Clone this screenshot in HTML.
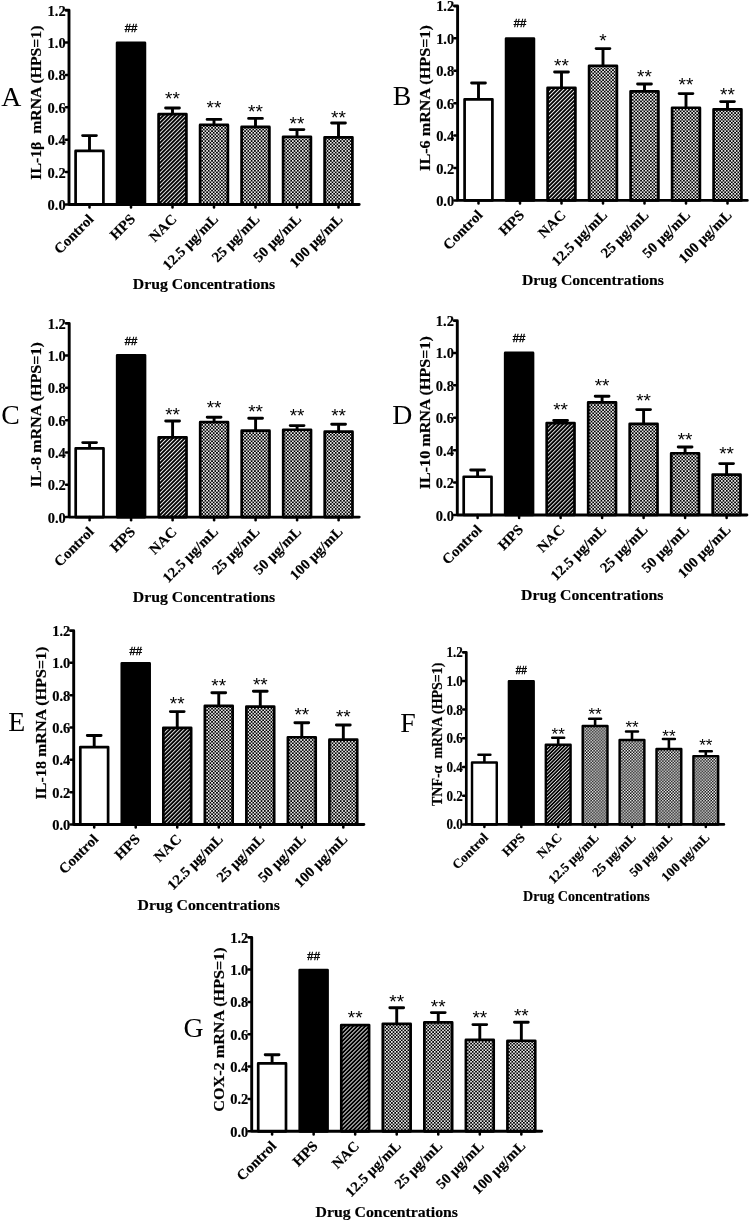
<!DOCTYPE html>
<html><head><meta charset="utf-8"><title>Figure</title>
<style>
html,body{margin:0;padding:0;background:#fff;}
body{width:750px;height:1221px;overflow:hidden;font-family:"Liberation Serif",serif;}
svg{display:block;will-change:transform;}
.b{font-weight:bold;stroke:#000;stroke-width:0.18px;stroke-linejoin:round;}
</style></head>
<body>
<svg width="750" height="1221" viewBox="0 0 750 1221">
<rect width="750" height="1221" fill="#fff"/>
<defs>
<pattern id="hatch" width="2.83" height="2.83" patternUnits="userSpaceOnUse" patternTransform="rotate(-45)">
<rect width="2.83" height="2.83" fill="#000"/><rect y="0" width="2.83" height="0.95" fill="#e2e2e2"/>
</pattern>
<pattern id="hatchF" width="2.5" height="2.5" patternUnits="userSpaceOnUse" patternTransform="rotate(-45)">
<rect width="2.5" height="2.5" fill="#000"/><rect y="0" width="2.5" height="0.85" fill="#e2e2e2"/>
</pattern>
<pattern id="chk" width="3.3" height="3.3" patternUnits="userSpaceOnUse">
<rect width="3.3" height="3.3" fill="#000"/><rect x="0" y="0" width="1.6" height="1.6" fill="#f6f6f6"/><rect x="1.65" y="1.65" width="1.6" height="1.6" fill="#f6f6f6"/>
</pattern>
<pattern id="chkF" width="2.93" height="2.93" patternUnits="userSpaceOnUse">
<rect width="2.93" height="2.93" fill="#000"/><rect x="0" y="0" width="1.465" height="1.465" fill="#fff"/><rect x="1.465" y="1.465" width="1.465" height="1.465" fill="#fff"/>
</pattern>
</defs>
<g id="panelA">
<path d="M89.5 150.6 V135.6 M82.6 135.6 H96.4" stroke="#000" stroke-width="2.9" stroke-linecap="round" fill="none"/>
<rect x="75.6" y="150.95" width="27.8" height="53.55" fill="#fff" stroke="#000" stroke-width="2.7" stroke-linejoin="round"/>
<rect x="117.1" y="42.75" width="27.8" height="161.75" fill="#000" stroke="#000" stroke-width="2.7" stroke-linejoin="round"/>
<text x="131" y="27.6" font-family="Liberation Sans, sans-serif" font-size="11.3" text-anchor="middle" dominant-baseline="central" stroke="#000" stroke-width="0.4">##</text>
<path d="M172.5 113.8 V108 M165.6 108 H179.4" stroke="#000" stroke-width="2.9" stroke-linecap="round" fill="none"/>
<rect x="158.6" y="114.15" width="27.8" height="90.35" fill="url(#hatch)" stroke="#000" stroke-width="2.7" stroke-linejoin="round"/>
<text x="172.5" y="105.03" font-family="Liberation Sans, sans-serif" font-size="19" text-anchor="middle">**</text>
<path d="M214 124.6 V119.4 M207.1 119.4 H220.9" stroke="#000" stroke-width="2.9" stroke-linecap="round" fill="none"/>
<rect x="200.1" y="124.95" width="27.8" height="79.55" fill="url(#chk)" stroke="#000" stroke-width="2.7" stroke-linejoin="round"/>
<text x="214" y="114.13" font-family="Liberation Sans, sans-serif" font-size="19" text-anchor="middle">**</text>
<path d="M255.5 126.6 V118.4 M248.6 118.4 H262.4" stroke="#000" stroke-width="2.9" stroke-linecap="round" fill="none"/>
<rect x="241.6" y="126.95" width="27.8" height="77.55" fill="url(#chk)" stroke="#000" stroke-width="2.7" stroke-linejoin="round"/>
<text x="255.5" y="118.33" font-family="Liberation Sans, sans-serif" font-size="19" text-anchor="middle">**</text>
<path d="M297 136.4 V129.6 M290.1 129.6 H303.9" stroke="#000" stroke-width="2.9" stroke-linecap="round" fill="none"/>
<rect x="283.1" y="136.75" width="27.8" height="67.75" fill="url(#chk)" stroke="#000" stroke-width="2.7" stroke-linejoin="round"/>
<text x="297" y="129.73" font-family="Liberation Sans, sans-serif" font-size="19" text-anchor="middle">**</text>
<path d="M338.5 137 V123 M331.6 123 H345.4" stroke="#000" stroke-width="2.9" stroke-linecap="round" fill="none"/>
<rect x="324.6" y="137.35" width="27.8" height="67.15" fill="url(#chk)" stroke="#000" stroke-width="2.7" stroke-linejoin="round"/>
<text x="338.5" y="124.13" font-family="Liberation Sans, sans-serif" font-size="19" text-anchor="middle">**</text>
<path d="M65.8 10.25 H69 V204.5 H359.2" stroke="#000" stroke-width="2.9" fill="none" stroke-linejoin="round" stroke-linecap="round"/>
<path d="M65.8 204.5 H68" stroke="#000" stroke-width="2.5" stroke-linecap="round"/>
<text transform="translate(65.6 210.03) scale(0.96 1)" font-family="Liberation Serif, serif" class="b" font-size="15.05" text-anchor="end">0.0</text>
<path d="M65.8 172.1 H68" stroke="#000" stroke-width="2.5" stroke-linecap="round"/>
<text transform="translate(65.6 177.63) scale(0.96 1)" font-family="Liberation Serif, serif" class="b" font-size="15.05" text-anchor="end">0.2</text>
<path d="M65.8 139.7 H68" stroke="#000" stroke-width="2.5" stroke-linecap="round"/>
<text transform="translate(65.6 145.23) scale(0.96 1)" font-family="Liberation Serif, serif" class="b" font-size="15.05" text-anchor="end">0.4</text>
<path d="M65.8 107.3 H68" stroke="#000" stroke-width="2.5" stroke-linecap="round"/>
<text transform="translate(65.6 112.83) scale(0.96 1)" font-family="Liberation Serif, serif" class="b" font-size="15.05" text-anchor="end">0.6</text>
<path d="M65.8 74.9 H68" stroke="#000" stroke-width="2.5" stroke-linecap="round"/>
<text transform="translate(65.6 80.43) scale(0.96 1)" font-family="Liberation Serif, serif" class="b" font-size="15.05" text-anchor="end">0.8</text>
<path d="M65.8 42.5 H68" stroke="#000" stroke-width="2.5" stroke-linecap="round"/>
<text transform="translate(65.6 48.03) scale(0.96 1)" font-family="Liberation Serif, serif" class="b" font-size="15.05" text-anchor="end">1.0</text>
<text transform="translate(65.6 15.63) scale(0.96 1)" font-family="Liberation Serif, serif" class="b" font-size="15.05" text-anchor="end">1.2</text>
<path d="M89.5 204.5 V207.6" stroke="#000" stroke-width="2.5" stroke-linecap="round"/>
<text transform="translate(94.5 220) rotate(-45) scale(1.03 1)" font-family="Liberation Serif, serif" class="b" font-size="14.42" text-anchor="end">Control</text>
<path d="M131 204.5 V207.6" stroke="#000" stroke-width="2.5" stroke-linecap="round"/>
<text transform="translate(136 220) rotate(-45) scale(1.03 1)" font-family="Liberation Serif, serif" class="b" font-size="14.42" text-anchor="end">HPS</text>
<path d="M172.5 204.5 V207.6" stroke="#000" stroke-width="2.5" stroke-linecap="round"/>
<text transform="translate(177.5 220) rotate(-45) scale(1.03 1)" font-family="Liberation Serif, serif" class="b" font-size="14.42" text-anchor="end">NAC</text>
<path d="M214 204.5 V207.6" stroke="#000" stroke-width="2.5" stroke-linecap="round"/>
<text transform="translate(219 220) rotate(-45) scale(1.03 1)" font-family="Liberation Serif, serif" class="b" font-size="14.42" text-anchor="end">12.5 μg/mL</text>
<path d="M255.5 204.5 V207.6" stroke="#000" stroke-width="2.5" stroke-linecap="round"/>
<text transform="translate(260.5 220) rotate(-45) scale(1.03 1)" font-family="Liberation Serif, serif" class="b" font-size="14.42" text-anchor="end">25 μg/mL</text>
<path d="M297 204.5 V207.6" stroke="#000" stroke-width="2.5" stroke-linecap="round"/>
<text transform="translate(302 220) rotate(-45) scale(1.03 1)" font-family="Liberation Serif, serif" class="b" font-size="14.42" text-anchor="end">50 μg/mL</text>
<path d="M338.5 204.5 V207.6" stroke="#000" stroke-width="2.5" stroke-linecap="round"/>
<text transform="translate(343.5 220) rotate(-45) scale(1.03 1)" font-family="Liberation Serif, serif" class="b" font-size="14.42" text-anchor="end">100 μg/mL</text>
<text transform="translate(41 102.6) rotate(-90)" font-family="Liberation Serif, serif" class="b" font-size="15.2" text-anchor="middle" textLength="154.1" lengthAdjust="spacingAndGlyphs">IL-1β  mRNA (HPS=1)</text>
<text x="204" y="289.2" font-family="Liberation Serif, serif" class="b" font-size="15.2" text-anchor="middle" textLength="142.4" lengthAdjust="spacingAndGlyphs">Drug Concentrations</text>
<text x="1.2" y="105.5" font-family="Liberation Serif, serif" font-size="27.8">A</text>
</g>
<g id="panelB">
<path d="M478.5 99 V83 M471.6 83 H485.4" stroke="#000" stroke-width="2.9" stroke-linecap="round" fill="none"/>
<rect x="464.6" y="99.35" width="27.8" height="101.05" fill="#fff" stroke="#000" stroke-width="2.7" stroke-linejoin="round"/>
<rect x="506.1" y="38.55" width="27.8" height="161.85" fill="#000" stroke="#000" stroke-width="2.7" stroke-linejoin="round"/>
<text x="520" y="23" font-family="Liberation Sans, sans-serif" font-size="11.3" text-anchor="middle" dominant-baseline="central" stroke="#000" stroke-width="0.4">##</text>
<path d="M561.5 87.4 V72 M554.6 72 H568.4" stroke="#000" stroke-width="2.9" stroke-linecap="round" fill="none"/>
<rect x="547.6" y="87.75" width="27.8" height="112.65" fill="url(#hatch)" stroke="#000" stroke-width="2.7" stroke-linejoin="round"/>
<text x="561.5" y="72.33" font-family="Liberation Sans, sans-serif" font-size="19" text-anchor="middle">**</text>
<path d="M603 65.4 V48.6 M596.1 48.6 H609.9" stroke="#000" stroke-width="2.9" stroke-linecap="round" fill="none"/>
<rect x="589.1" y="65.75" width="27.8" height="134.65" fill="url(#chk)" stroke="#000" stroke-width="2.7" stroke-linejoin="round"/>
<text x="603" y="47.13" font-family="Liberation Sans, sans-serif" font-size="19" text-anchor="middle">*</text>
<path d="M644.5 91 V84 M637.6 84 H651.4" stroke="#000" stroke-width="2.9" stroke-linecap="round" fill="none"/>
<rect x="630.6" y="91.35" width="27.8" height="109.05" fill="url(#chk)" stroke="#000" stroke-width="2.7" stroke-linejoin="round"/>
<text x="644.5" y="82.73" font-family="Liberation Sans, sans-serif" font-size="19" text-anchor="middle">**</text>
<path d="M686 107.4 V93.6 M679.1 93.6 H692.9" stroke="#000" stroke-width="2.9" stroke-linecap="round" fill="none"/>
<rect x="672.1" y="107.75" width="27.8" height="92.65" fill="url(#chk)" stroke="#000" stroke-width="2.7" stroke-linejoin="round"/>
<text x="686" y="91.33" font-family="Liberation Sans, sans-serif" font-size="19" text-anchor="middle">**</text>
<path d="M727.5 109 V101.6 M720.6 101.6 H734.4" stroke="#000" stroke-width="2.9" stroke-linecap="round" fill="none"/>
<rect x="713.6" y="109.35" width="27.8" height="91.05" fill="url(#chk)" stroke="#000" stroke-width="2.7" stroke-linejoin="round"/>
<text x="727.5" y="101.13" font-family="Liberation Sans, sans-serif" font-size="19" text-anchor="middle">**</text>
<path d="M454.4 6.05 H457.6 V200.4 H747.3" stroke="#000" stroke-width="2.9" fill="none" stroke-linejoin="round" stroke-linecap="round"/>
<path d="M454.4 200.4 H456.6" stroke="#000" stroke-width="2.5" stroke-linecap="round"/>
<text transform="translate(454.2 205.93) scale(0.96 1)" font-family="Liberation Serif, serif" class="b" font-size="15.05" text-anchor="end">0.0</text>
<path d="M454.4 167.98 H456.6" stroke="#000" stroke-width="2.5" stroke-linecap="round"/>
<text transform="translate(454.2 173.51) scale(0.96 1)" font-family="Liberation Serif, serif" class="b" font-size="15.05" text-anchor="end">0.2</text>
<path d="M454.4 135.57 H456.6" stroke="#000" stroke-width="2.5" stroke-linecap="round"/>
<text transform="translate(454.2 141.1) scale(0.96 1)" font-family="Liberation Serif, serif" class="b" font-size="15.05" text-anchor="end">0.4</text>
<path d="M454.4 103.15 H456.6" stroke="#000" stroke-width="2.5" stroke-linecap="round"/>
<text transform="translate(454.2 108.68) scale(0.96 1)" font-family="Liberation Serif, serif" class="b" font-size="15.05" text-anchor="end">0.6</text>
<path d="M454.4 70.73 H456.6" stroke="#000" stroke-width="2.5" stroke-linecap="round"/>
<text transform="translate(454.2 76.26) scale(0.96 1)" font-family="Liberation Serif, serif" class="b" font-size="15.05" text-anchor="end">0.8</text>
<path d="M454.4 38.32 H456.6" stroke="#000" stroke-width="2.5" stroke-linecap="round"/>
<text transform="translate(454.2 43.85) scale(0.96 1)" font-family="Liberation Serif, serif" class="b" font-size="15.05" text-anchor="end">1.0</text>
<text transform="translate(454.2 11.43) scale(0.96 1)" font-family="Liberation Serif, serif" class="b" font-size="15.05" text-anchor="end">1.2</text>
<path d="M478.5 200.4 V203.5" stroke="#000" stroke-width="2.5" stroke-linecap="round"/>
<text transform="translate(483.5 215.9) rotate(-45) scale(1.03 1)" font-family="Liberation Serif, serif" class="b" font-size="14.42" text-anchor="end">Control</text>
<path d="M520 200.4 V203.5" stroke="#000" stroke-width="2.5" stroke-linecap="round"/>
<text transform="translate(525 215.9) rotate(-45) scale(1.03 1)" font-family="Liberation Serif, serif" class="b" font-size="14.42" text-anchor="end">HPS</text>
<path d="M561.5 200.4 V203.5" stroke="#000" stroke-width="2.5" stroke-linecap="round"/>
<text transform="translate(566.5 215.9) rotate(-45) scale(1.03 1)" font-family="Liberation Serif, serif" class="b" font-size="14.42" text-anchor="end">NAC</text>
<path d="M603 200.4 V203.5" stroke="#000" stroke-width="2.5" stroke-linecap="round"/>
<text transform="translate(608 215.9) rotate(-45) scale(1.03 1)" font-family="Liberation Serif, serif" class="b" font-size="14.42" text-anchor="end">12.5 μg/mL</text>
<path d="M644.5 200.4 V203.5" stroke="#000" stroke-width="2.5" stroke-linecap="round"/>
<text transform="translate(649.5 215.9) rotate(-45) scale(1.03 1)" font-family="Liberation Serif, serif" class="b" font-size="14.42" text-anchor="end">25 μg/mL</text>
<path d="M686 200.4 V203.5" stroke="#000" stroke-width="2.5" stroke-linecap="round"/>
<text transform="translate(691 215.9) rotate(-45) scale(1.03 1)" font-family="Liberation Serif, serif" class="b" font-size="14.42" text-anchor="end">50 μg/mL</text>
<path d="M727.5 200.4 V203.5" stroke="#000" stroke-width="2.5" stroke-linecap="round"/>
<text transform="translate(732.5 215.9) rotate(-45) scale(1.03 1)" font-family="Liberation Serif, serif" class="b" font-size="14.42" text-anchor="end">100 μg/mL</text>
<text transform="translate(430 98) rotate(-90)" font-family="Liberation Serif, serif" class="b" font-size="15.2" text-anchor="middle" textLength="145.8" lengthAdjust="spacingAndGlyphs">IL-6 mRNA (HPS=1)</text>
<text x="593" y="284.7" font-family="Liberation Serif, serif" class="b" font-size="15.2" text-anchor="middle" textLength="142" lengthAdjust="spacingAndGlyphs">Drug Concentrations</text>
<text x="392.7" y="104.9" font-family="Liberation Serif, serif" font-size="27.8">B</text>
</g>
<g id="panelC">
<path d="M89.6 448 V442.6 M82.7 442.6 H96.5" stroke="#000" stroke-width="2.9" stroke-linecap="round" fill="none"/>
<rect x="75.7" y="448.35" width="27.8" height="68.75" fill="#fff" stroke="#000" stroke-width="2.7" stroke-linejoin="round"/>
<rect x="117.2" y="355.35" width="27.8" height="161.75" fill="#000" stroke="#000" stroke-width="2.7" stroke-linejoin="round"/>
<text x="131.1" y="341" font-family="Liberation Sans, sans-serif" font-size="11.3" text-anchor="middle" dominant-baseline="central" stroke="#000" stroke-width="0.4">##</text>
<path d="M172.6 437 V421 M165.7 421 H179.5" stroke="#000" stroke-width="2.9" stroke-linecap="round" fill="none"/>
<rect x="158.7" y="437.35" width="27.8" height="79.75" fill="url(#hatch)" stroke="#000" stroke-width="2.7" stroke-linejoin="round"/>
<text x="172.6" y="421.13" font-family="Liberation Sans, sans-serif" font-size="19" text-anchor="middle">**</text>
<path d="M214.1 421.8 V417.2 M207.2 417.2 H221" stroke="#000" stroke-width="2.9" stroke-linecap="round" fill="none"/>
<rect x="200.2" y="422.15" width="27.8" height="94.95" fill="url(#chk)" stroke="#000" stroke-width="2.7" stroke-linejoin="round"/>
<text x="214.1" y="414.33" font-family="Liberation Sans, sans-serif" font-size="19" text-anchor="middle">**</text>
<path d="M255.6 430.3 V418.3 M248.7 418.3 H262.5" stroke="#000" stroke-width="2.9" stroke-linecap="round" fill="none"/>
<rect x="241.7" y="430.65" width="27.8" height="86.45" fill="url(#chk)" stroke="#000" stroke-width="2.7" stroke-linejoin="round"/>
<text x="255.6" y="417.73" font-family="Liberation Sans, sans-serif" font-size="19" text-anchor="middle">**</text>
<path d="M297.1 429.4 V425.6 M290.2 425.6 H304" stroke="#000" stroke-width="2.9" stroke-linecap="round" fill="none"/>
<rect x="283.2" y="429.75" width="27.8" height="87.35" fill="url(#chk)" stroke="#000" stroke-width="2.7" stroke-linejoin="round"/>
<text x="297.1" y="421.83" font-family="Liberation Sans, sans-serif" font-size="19" text-anchor="middle">**</text>
<path d="M338.6 431.3 V424.2 M331.7 424.2 H345.5" stroke="#000" stroke-width="2.9" stroke-linecap="round" fill="none"/>
<rect x="324.7" y="431.65" width="27.8" height="85.45" fill="url(#chk)" stroke="#000" stroke-width="2.7" stroke-linejoin="round"/>
<text x="338.6" y="422.03" font-family="Liberation Sans, sans-serif" font-size="19" text-anchor="middle">**</text>
<path d="M66 323.35 H69.2 V517.1 H359.2" stroke="#000" stroke-width="2.9" fill="none" stroke-linejoin="round" stroke-linecap="round"/>
<path d="M66 517.1 H68.2" stroke="#000" stroke-width="2.5" stroke-linecap="round"/>
<text transform="translate(65.8 522.63) scale(0.96 1)" font-family="Liberation Serif, serif" class="b" font-size="15.05" text-anchor="end">0.0</text>
<path d="M66 484.78 H68.2" stroke="#000" stroke-width="2.5" stroke-linecap="round"/>
<text transform="translate(65.8 490.31) scale(0.96 1)" font-family="Liberation Serif, serif" class="b" font-size="15.05" text-anchor="end">0.2</text>
<path d="M66 452.47 H68.2" stroke="#000" stroke-width="2.5" stroke-linecap="round"/>
<text transform="translate(65.8 458) scale(0.96 1)" font-family="Liberation Serif, serif" class="b" font-size="15.05" text-anchor="end">0.4</text>
<path d="M66 420.15 H68.2" stroke="#000" stroke-width="2.5" stroke-linecap="round"/>
<text transform="translate(65.8 425.68) scale(0.96 1)" font-family="Liberation Serif, serif" class="b" font-size="15.05" text-anchor="end">0.6</text>
<path d="M66 387.83 H68.2" stroke="#000" stroke-width="2.5" stroke-linecap="round"/>
<text transform="translate(65.8 393.36) scale(0.96 1)" font-family="Liberation Serif, serif" class="b" font-size="15.05" text-anchor="end">0.8</text>
<path d="M66 355.52 H68.2" stroke="#000" stroke-width="2.5" stroke-linecap="round"/>
<text transform="translate(65.8 361.05) scale(0.96 1)" font-family="Liberation Serif, serif" class="b" font-size="15.05" text-anchor="end">1.0</text>
<text transform="translate(65.8 328.73) scale(0.96 1)" font-family="Liberation Serif, serif" class="b" font-size="15.05" text-anchor="end">1.2</text>
<path d="M89.6 517.1 V520.2" stroke="#000" stroke-width="2.5" stroke-linecap="round"/>
<text transform="translate(94.6 532.6) rotate(-45) scale(1.03 1)" font-family="Liberation Serif, serif" class="b" font-size="14.42" text-anchor="end">Control</text>
<path d="M131.1 517.1 V520.2" stroke="#000" stroke-width="2.5" stroke-linecap="round"/>
<text transform="translate(136.1 532.6) rotate(-45) scale(1.03 1)" font-family="Liberation Serif, serif" class="b" font-size="14.42" text-anchor="end">HPS</text>
<path d="M172.6 517.1 V520.2" stroke="#000" stroke-width="2.5" stroke-linecap="round"/>
<text transform="translate(177.6 532.6) rotate(-45) scale(1.03 1)" font-family="Liberation Serif, serif" class="b" font-size="14.42" text-anchor="end">NAC</text>
<path d="M214.1 517.1 V520.2" stroke="#000" stroke-width="2.5" stroke-linecap="round"/>
<text transform="translate(219.1 532.6) rotate(-45) scale(1.03 1)" font-family="Liberation Serif, serif" class="b" font-size="14.42" text-anchor="end">12.5 μg/mL</text>
<path d="M255.6 517.1 V520.2" stroke="#000" stroke-width="2.5" stroke-linecap="round"/>
<text transform="translate(260.6 532.6) rotate(-45) scale(1.03 1)" font-family="Liberation Serif, serif" class="b" font-size="14.42" text-anchor="end">25 μg/mL</text>
<path d="M297.1 517.1 V520.2" stroke="#000" stroke-width="2.5" stroke-linecap="round"/>
<text transform="translate(302.1 532.6) rotate(-45) scale(1.03 1)" font-family="Liberation Serif, serif" class="b" font-size="14.42" text-anchor="end">50 μg/mL</text>
<path d="M338.6 517.1 V520.2" stroke="#000" stroke-width="2.5" stroke-linecap="round"/>
<text transform="translate(343.6 532.6) rotate(-45) scale(1.03 1)" font-family="Liberation Serif, serif" class="b" font-size="14.42" text-anchor="end">100 μg/mL</text>
<text transform="translate(41.3 414.8) rotate(-90)" font-family="Liberation Serif, serif" class="b" font-size="15.2" text-anchor="middle" textLength="145.4" lengthAdjust="spacingAndGlyphs">IL-8 mRNA (HPS=1)</text>
<text x="204" y="601.7" font-family="Liberation Serif, serif" class="b" font-size="15.2" text-anchor="middle" textLength="142.4" lengthAdjust="spacingAndGlyphs">Drug Concentrations</text>
<text x="1.2" y="423.5" font-family="Liberation Serif, serif" font-size="27.8">C</text>
</g>
<g id="panelD">
<path d="M477.6 476.4 V470 M470.7 470 H484.5" stroke="#000" stroke-width="2.9" stroke-linecap="round" fill="none"/>
<rect x="463.7" y="476.75" width="27.8" height="38.25" fill="#fff" stroke="#000" stroke-width="2.7" stroke-linejoin="round"/>
<rect x="505.2" y="352.95" width="27.8" height="162.05" fill="#000" stroke="#000" stroke-width="2.7" stroke-linejoin="round"/>
<text x="519.1" y="338" font-family="Liberation Sans, sans-serif" font-size="11.3" text-anchor="middle" dominant-baseline="central" stroke="#000" stroke-width="0.4">##</text>
<path d="M560.6 422.7 V420.5 M553.7 420.5 H567.5" stroke="#000" stroke-width="2.9" stroke-linecap="round" fill="none"/>
<rect x="546.7" y="423.05" width="27.8" height="91.95" fill="url(#hatch)" stroke="#000" stroke-width="2.7" stroke-linejoin="round"/>
<text x="560.6" y="415.83" font-family="Liberation Sans, sans-serif" font-size="19" text-anchor="middle">**</text>
<path d="M602.1 402 V396.3 M595.2 396.3 H609" stroke="#000" stroke-width="2.9" stroke-linecap="round" fill="none"/>
<rect x="588.2" y="402.35" width="27.8" height="112.65" fill="url(#chk)" stroke="#000" stroke-width="2.7" stroke-linejoin="round"/>
<text x="602.1" y="391.93" font-family="Liberation Sans, sans-serif" font-size="19" text-anchor="middle">**</text>
<path d="M643.6 423.5 V409.6 M636.7 409.6 H650.5" stroke="#000" stroke-width="2.9" stroke-linecap="round" fill="none"/>
<rect x="629.7" y="423.85" width="27.8" height="91.15" fill="url(#chk)" stroke="#000" stroke-width="2.7" stroke-linejoin="round"/>
<text x="643.6" y="407.13" font-family="Liberation Sans, sans-serif" font-size="19" text-anchor="middle">**</text>
<path d="M685.1 452.9 V447 M678.2 447 H692" stroke="#000" stroke-width="2.9" stroke-linecap="round" fill="none"/>
<rect x="671.2" y="453.25" width="27.8" height="61.75" fill="url(#chk)" stroke="#000" stroke-width="2.7" stroke-linejoin="round"/>
<text x="685.1" y="446.13" font-family="Liberation Sans, sans-serif" font-size="19" text-anchor="middle">**</text>
<path d="M726.6 474.2 V463.6 M719.7 463.6 H733.5" stroke="#000" stroke-width="2.9" stroke-linecap="round" fill="none"/>
<rect x="712.7" y="474.55" width="27.8" height="40.45" fill="url(#chk)" stroke="#000" stroke-width="2.7" stroke-linejoin="round"/>
<text x="726.6" y="459.73" font-family="Liberation Sans, sans-serif" font-size="19" text-anchor="middle">**</text>
<path d="M454.1 320.65 H457.3 V515 H746.9" stroke="#000" stroke-width="2.9" fill="none" stroke-linejoin="round" stroke-linecap="round"/>
<path d="M454.1 515 H456.3" stroke="#000" stroke-width="2.5" stroke-linecap="round"/>
<text transform="translate(453.9 520.53) scale(0.96 1)" font-family="Liberation Serif, serif" class="b" font-size="15.05" text-anchor="end">0.0</text>
<path d="M454.1 482.58 H456.3" stroke="#000" stroke-width="2.5" stroke-linecap="round"/>
<text transform="translate(453.9 488.11) scale(0.96 1)" font-family="Liberation Serif, serif" class="b" font-size="15.05" text-anchor="end">0.2</text>
<path d="M454.1 450.17 H456.3" stroke="#000" stroke-width="2.5" stroke-linecap="round"/>
<text transform="translate(453.9 455.7) scale(0.96 1)" font-family="Liberation Serif, serif" class="b" font-size="15.05" text-anchor="end">0.4</text>
<path d="M454.1 417.75 H456.3" stroke="#000" stroke-width="2.5" stroke-linecap="round"/>
<text transform="translate(453.9 423.28) scale(0.96 1)" font-family="Liberation Serif, serif" class="b" font-size="15.05" text-anchor="end">0.6</text>
<path d="M454.1 385.33 H456.3" stroke="#000" stroke-width="2.5" stroke-linecap="round"/>
<text transform="translate(453.9 390.86) scale(0.96 1)" font-family="Liberation Serif, serif" class="b" font-size="15.05" text-anchor="end">0.8</text>
<path d="M454.1 352.92 H456.3" stroke="#000" stroke-width="2.5" stroke-linecap="round"/>
<text transform="translate(453.9 358.45) scale(0.96 1)" font-family="Liberation Serif, serif" class="b" font-size="15.05" text-anchor="end">1.0</text>
<text transform="translate(453.9 326.03) scale(0.96 1)" font-family="Liberation Serif, serif" class="b" font-size="15.05" text-anchor="end">1.2</text>
<path d="M477.6 515 V518.1" stroke="#000" stroke-width="2.5" stroke-linecap="round"/>
<text transform="translate(482.6 530.5) rotate(-45) scale(1.03 1)" font-family="Liberation Serif, serif" class="b" font-size="14.42" text-anchor="end">Control</text>
<path d="M519.1 515 V518.1" stroke="#000" stroke-width="2.5" stroke-linecap="round"/>
<text transform="translate(524.1 530.5) rotate(-45) scale(1.03 1)" font-family="Liberation Serif, serif" class="b" font-size="14.42" text-anchor="end">HPS</text>
<path d="M560.6 515 V518.1" stroke="#000" stroke-width="2.5" stroke-linecap="round"/>
<text transform="translate(565.6 530.5) rotate(-45) scale(1.03 1)" font-family="Liberation Serif, serif" class="b" font-size="14.42" text-anchor="end">NAC</text>
<path d="M602.1 515 V518.1" stroke="#000" stroke-width="2.5" stroke-linecap="round"/>
<text transform="translate(607.1 530.5) rotate(-45) scale(1.03 1)" font-family="Liberation Serif, serif" class="b" font-size="14.42" text-anchor="end">12.5 μg/mL</text>
<path d="M643.6 515 V518.1" stroke="#000" stroke-width="2.5" stroke-linecap="round"/>
<text transform="translate(648.6 530.5) rotate(-45) scale(1.03 1)" font-family="Liberation Serif, serif" class="b" font-size="14.42" text-anchor="end">25 μg/mL</text>
<path d="M685.1 515 V518.1" stroke="#000" stroke-width="2.5" stroke-linecap="round"/>
<text transform="translate(690.1 530.5) rotate(-45) scale(1.03 1)" font-family="Liberation Serif, serif" class="b" font-size="14.42" text-anchor="end">50 μg/mL</text>
<path d="M726.6 515 V518.1" stroke="#000" stroke-width="2.5" stroke-linecap="round"/>
<text transform="translate(731.6 530.5) rotate(-45) scale(1.03 1)" font-family="Liberation Serif, serif" class="b" font-size="14.42" text-anchor="end">100 μg/mL</text>
<text transform="translate(429.8 412.7) rotate(-90)" font-family="Liberation Serif, serif" class="b" font-size="15.2" text-anchor="middle" textLength="153.1" lengthAdjust="spacingAndGlyphs">IL-10 mRNA (HPS=1)</text>
<text x="592.3" y="599.7" font-family="Liberation Serif, serif" class="b" font-size="15.2" text-anchor="middle" textLength="142.4" lengthAdjust="spacingAndGlyphs">Drug Concentrations</text>
<text x="392.3" y="424.3" font-family="Liberation Serif, serif" font-size="27.8">D</text>
</g>
<g id="panelE">
<path d="M94.2 746.7 V735.5 M87.3 735.5 H101.1" stroke="#000" stroke-width="2.9" stroke-linecap="round" fill="none"/>
<rect x="80.3" y="747.05" width="27.8" height="77.45" fill="#fff" stroke="#000" stroke-width="2.7" stroke-linejoin="round"/>
<rect x="121.82" y="663.25" width="27.8" height="161.25" fill="#000" stroke="#000" stroke-width="2.7" stroke-linejoin="round"/>
<text x="135.72" y="651" font-family="Liberation Sans, sans-serif" font-size="11.3" text-anchor="middle" dominant-baseline="central" stroke="#000" stroke-width="0.4">##</text>
<path d="M177.24 727.5 V711.6 M170.34 711.6 H184.14" stroke="#000" stroke-width="2.9" stroke-linecap="round" fill="none"/>
<rect x="163.34" y="727.85" width="27.8" height="96.65" fill="url(#hatch)" stroke="#000" stroke-width="2.7" stroke-linejoin="round"/>
<text x="177.24" y="709.93" font-family="Liberation Sans, sans-serif" font-size="19" text-anchor="middle">**</text>
<path d="M218.76 705.5 V692.8 M211.86 692.8 H225.66" stroke="#000" stroke-width="2.9" stroke-linecap="round" fill="none"/>
<rect x="204.86" y="705.85" width="27.8" height="118.65" fill="url(#chk)" stroke="#000" stroke-width="2.7" stroke-linejoin="round"/>
<text x="218.76" y="691.73" font-family="Liberation Sans, sans-serif" font-size="19" text-anchor="middle">**</text>
<path d="M260.28 706.2 V691.2 M253.38 691.2 H267.18" stroke="#000" stroke-width="2.9" stroke-linecap="round" fill="none"/>
<rect x="246.38" y="706.55" width="27.8" height="117.95" fill="url(#chk)" stroke="#000" stroke-width="2.7" stroke-linejoin="round"/>
<text x="260.28" y="690.53" font-family="Liberation Sans, sans-serif" font-size="19" text-anchor="middle">**</text>
<path d="M301.8 736.9 V722.7 M294.9 722.7 H308.7" stroke="#000" stroke-width="2.9" stroke-linecap="round" fill="none"/>
<rect x="287.9" y="737.25" width="27.8" height="87.25" fill="url(#chk)" stroke="#000" stroke-width="2.7" stroke-linejoin="round"/>
<text x="301.8" y="721.03" font-family="Liberation Sans, sans-serif" font-size="19" text-anchor="middle">**</text>
<path d="M343.32 739.3 V725 M336.42 725 H350.22" stroke="#000" stroke-width="2.9" stroke-linecap="round" fill="none"/>
<rect x="329.42" y="739.65" width="27.8" height="84.85" fill="url(#chk)" stroke="#000" stroke-width="2.7" stroke-linejoin="round"/>
<text x="343.32" y="723.23" font-family="Liberation Sans, sans-serif" font-size="19" text-anchor="middle">**</text>
<path d="M70.5 630.65 H73.7 V824.5 H363.9" stroke="#000" stroke-width="2.9" fill="none" stroke-linejoin="round" stroke-linecap="round"/>
<path d="M70.5 824.5 H72.7" stroke="#000" stroke-width="2.5" stroke-linecap="round"/>
<text transform="translate(70.3 830.03) scale(0.96 1)" font-family="Liberation Serif, serif" class="b" font-size="15.05" text-anchor="end">0.0</text>
<path d="M70.5 792.17 H72.7" stroke="#000" stroke-width="2.5" stroke-linecap="round"/>
<text transform="translate(70.3 797.7) scale(0.96 1)" font-family="Liberation Serif, serif" class="b" font-size="15.05" text-anchor="end">0.2</text>
<path d="M70.5 759.83 H72.7" stroke="#000" stroke-width="2.5" stroke-linecap="round"/>
<text transform="translate(70.3 765.36) scale(0.96 1)" font-family="Liberation Serif, serif" class="b" font-size="15.05" text-anchor="end">0.4</text>
<path d="M70.5 727.5 H72.7" stroke="#000" stroke-width="2.5" stroke-linecap="round"/>
<text transform="translate(70.3 733.03) scale(0.96 1)" font-family="Liberation Serif, serif" class="b" font-size="15.05" text-anchor="end">0.6</text>
<path d="M70.5 695.17 H72.7" stroke="#000" stroke-width="2.5" stroke-linecap="round"/>
<text transform="translate(70.3 700.7) scale(0.96 1)" font-family="Liberation Serif, serif" class="b" font-size="15.05" text-anchor="end">0.8</text>
<path d="M70.5 662.83 H72.7" stroke="#000" stroke-width="2.5" stroke-linecap="round"/>
<text transform="translate(70.3 668.36) scale(0.96 1)" font-family="Liberation Serif, serif" class="b" font-size="15.05" text-anchor="end">1.0</text>
<text transform="translate(70.3 636.03) scale(0.96 1)" font-family="Liberation Serif, serif" class="b" font-size="15.05" text-anchor="end">1.2</text>
<path d="M94.2 824.5 V827.6" stroke="#000" stroke-width="2.5" stroke-linecap="round"/>
<text transform="translate(99.2 840) rotate(-45) scale(1.03 1)" font-family="Liberation Serif, serif" class="b" font-size="14.42" text-anchor="end">Control</text>
<path d="M135.72 824.5 V827.6" stroke="#000" stroke-width="2.5" stroke-linecap="round"/>
<text transform="translate(140.72 840) rotate(-45) scale(1.03 1)" font-family="Liberation Serif, serif" class="b" font-size="14.42" text-anchor="end">HPS</text>
<path d="M177.24 824.5 V827.6" stroke="#000" stroke-width="2.5" stroke-linecap="round"/>
<text transform="translate(182.24 840) rotate(-45) scale(1.03 1)" font-family="Liberation Serif, serif" class="b" font-size="14.42" text-anchor="end">NAC</text>
<path d="M218.76 824.5 V827.6" stroke="#000" stroke-width="2.5" stroke-linecap="round"/>
<text transform="translate(223.76 840) rotate(-45) scale(1.03 1)" font-family="Liberation Serif, serif" class="b" font-size="14.42" text-anchor="end">12.5 μg/mL</text>
<path d="M260.28 824.5 V827.6" stroke="#000" stroke-width="2.5" stroke-linecap="round"/>
<text transform="translate(265.28 840) rotate(-45) scale(1.03 1)" font-family="Liberation Serif, serif" class="b" font-size="14.42" text-anchor="end">25 μg/mL</text>
<path d="M301.8 824.5 V827.6" stroke="#000" stroke-width="2.5" stroke-linecap="round"/>
<text transform="translate(306.8 840) rotate(-45) scale(1.03 1)" font-family="Liberation Serif, serif" class="b" font-size="14.42" text-anchor="end">50 μg/mL</text>
<path d="M343.32 824.5 V827.6" stroke="#000" stroke-width="2.5" stroke-linecap="round"/>
<text transform="translate(348.32 840) rotate(-45) scale(1.03 1)" font-family="Liberation Serif, serif" class="b" font-size="14.42" text-anchor="end">100 μg/mL</text>
<text transform="translate(46.1 723) rotate(-90)" font-family="Liberation Serif, serif" class="b" font-size="15.2" text-anchor="middle" textLength="152.8" lengthAdjust="spacingAndGlyphs">IL-18 mRNA (HPS=1)</text>
<text x="208.8" y="910.4" font-family="Liberation Serif, serif" class="b" font-size="15.2" text-anchor="middle" textLength="142.4" lengthAdjust="spacingAndGlyphs">Drug Concentrations</text>
<text x="8.2" y="730.8" font-family="Liberation Serif, serif" font-size="27.8">E</text>
</g>
<g id="panelF">
<path d="M484.4 762.2 V754.8 M478.45 754.8 H490.35" stroke="#000" stroke-width="2.6" stroke-linecap="round" fill="none"/>
<rect x="472.02" y="762.43" width="24.75" height="61.97" fill="#fff" stroke="#000" stroke-width="2.45" stroke-linejoin="round"/>
<rect x="508.92" y="681.23" width="24.75" height="143.17" fill="#000" stroke="#000" stroke-width="2.45" stroke-linejoin="round"/>
<text x="521.3" y="670.6" font-family="Liberation Sans, sans-serif" font-size="10.1" text-anchor="middle" dominant-baseline="central" stroke="#000" stroke-width="0.4">##</text>
<path d="M558.2 744.5 V737.7 M552.25 737.7 H564.15" stroke="#000" stroke-width="2.6" stroke-linecap="round" fill="none"/>
<rect x="545.82" y="744.73" width="24.75" height="79.67" fill="url(#hatchF)" stroke="#000" stroke-width="2.45" stroke-linejoin="round"/>
<text x="558.2" y="740.29" font-family="Liberation Sans, sans-serif" font-size="17" text-anchor="middle">**</text>
<path d="M595.1 725.8 V718.8 M589.15 718.8 H601.05" stroke="#000" stroke-width="2.6" stroke-linecap="round" fill="none"/>
<rect x="582.72" y="726.02" width="24.75" height="98.38" fill="url(#chkF)" stroke="#000" stroke-width="2.45" stroke-linejoin="round"/>
<text x="595.1" y="720.19" font-family="Liberation Sans, sans-serif" font-size="17" text-anchor="middle">**</text>
<path d="M632 739.8 V731.5 M626.05 731.5 H637.95" stroke="#000" stroke-width="2.6" stroke-linecap="round" fill="none"/>
<rect x="619.62" y="740.02" width="24.75" height="84.38" fill="url(#chkF)" stroke="#000" stroke-width="2.45" stroke-linejoin="round"/>
<text x="632" y="732.59" font-family="Liberation Sans, sans-serif" font-size="17" text-anchor="middle">**</text>
<path d="M668.9 748.7 V739 M662.95 739 H674.85" stroke="#000" stroke-width="2.6" stroke-linecap="round" fill="none"/>
<rect x="656.52" y="748.93" width="24.75" height="75.47" fill="url(#chkF)" stroke="#000" stroke-width="2.45" stroke-linejoin="round"/>
<text x="668.9" y="741.79" font-family="Liberation Sans, sans-serif" font-size="17" text-anchor="middle">**</text>
<path d="M705.8 755.9 V751.2 M699.85 751.2 H711.75" stroke="#000" stroke-width="2.6" stroke-linecap="round" fill="none"/>
<rect x="693.42" y="756.12" width="24.75" height="68.28" fill="url(#chkF)" stroke="#000" stroke-width="2.45" stroke-linejoin="round"/>
<text x="705.8" y="751.39" font-family="Liberation Sans, sans-serif" font-size="17" text-anchor="middle">**</text>
<path d="M463.1 652.35 H466.3 V824.4 H723.9" stroke="#000" stroke-width="2.7" fill="none" stroke-linejoin="round" stroke-linecap="round"/>
<path d="M463.1 824.4 H465.3" stroke="#000" stroke-width="2.5" stroke-linecap="round"/>
<text transform="translate(462.9 829.42) scale(0.96 1)" font-family="Liberation Serif, serif" class="b" font-size="13.65" text-anchor="end">0.0</text>
<path d="M463.1 795.7 H465.3" stroke="#000" stroke-width="2.5" stroke-linecap="round"/>
<text transform="translate(462.9 800.72) scale(0.96 1)" font-family="Liberation Serif, serif" class="b" font-size="13.65" text-anchor="end">0.2</text>
<path d="M463.1 767 H465.3" stroke="#000" stroke-width="2.5" stroke-linecap="round"/>
<text transform="translate(462.9 772.02) scale(0.96 1)" font-family="Liberation Serif, serif" class="b" font-size="13.65" text-anchor="end">0.4</text>
<path d="M463.1 738.3 H465.3" stroke="#000" stroke-width="2.5" stroke-linecap="round"/>
<text transform="translate(462.9 743.32) scale(0.96 1)" font-family="Liberation Serif, serif" class="b" font-size="13.65" text-anchor="end">0.6</text>
<path d="M463.1 709.6 H465.3" stroke="#000" stroke-width="2.5" stroke-linecap="round"/>
<text transform="translate(462.9 714.62) scale(0.96 1)" font-family="Liberation Serif, serif" class="b" font-size="13.65" text-anchor="end">0.8</text>
<path d="M463.1 680.9 H465.3" stroke="#000" stroke-width="2.5" stroke-linecap="round"/>
<text transform="translate(462.9 685.92) scale(0.96 1)" font-family="Liberation Serif, serif" class="b" font-size="13.65" text-anchor="end">1.0</text>
<text transform="translate(462.9 657.22) scale(0.96 1)" font-family="Liberation Serif, serif" class="b" font-size="13.65" text-anchor="end">1.2</text>
<path d="M484.4 824.4 V827.1" stroke="#000" stroke-width="2.5" stroke-linecap="round"/>
<text transform="translate(488.94 838.46) rotate(-45) scale(1.03 1)" font-family="Liberation Serif, serif" class="b" font-size="13.08" text-anchor="end">Control</text>
<path d="M521.3 824.4 V827.1" stroke="#000" stroke-width="2.5" stroke-linecap="round"/>
<text transform="translate(525.84 838.46) rotate(-45) scale(1.03 1)" font-family="Liberation Serif, serif" class="b" font-size="13.08" text-anchor="end">HPS</text>
<path d="M558.2 824.4 V827.1" stroke="#000" stroke-width="2.5" stroke-linecap="round"/>
<text transform="translate(562.74 838.46) rotate(-45) scale(1.03 1)" font-family="Liberation Serif, serif" class="b" font-size="13.08" text-anchor="end">NAC</text>
<path d="M595.1 824.4 V827.1" stroke="#000" stroke-width="2.5" stroke-linecap="round"/>
<text transform="translate(599.64 838.46) rotate(-45) scale(1.03 1)" font-family="Liberation Serif, serif" class="b" font-size="13.08" text-anchor="end">12.5 μg/mL</text>
<path d="M632 824.4 V827.1" stroke="#000" stroke-width="2.5" stroke-linecap="round"/>
<text transform="translate(636.54 838.46) rotate(-45) scale(1.03 1)" font-family="Liberation Serif, serif" class="b" font-size="13.08" text-anchor="end">25 μg/mL</text>
<path d="M668.9 824.4 V827.1" stroke="#000" stroke-width="2.5" stroke-linecap="round"/>
<text transform="translate(673.44 838.46) rotate(-45) scale(1.03 1)" font-family="Liberation Serif, serif" class="b" font-size="13.08" text-anchor="end">50 μg/mL</text>
<path d="M705.8 824.4 V827.1" stroke="#000" stroke-width="2.5" stroke-linecap="round"/>
<text transform="translate(710.34 838.46) rotate(-45) scale(1.03 1)" font-family="Liberation Serif, serif" class="b" font-size="13.08" text-anchor="end">100 μg/mL</text>
<text transform="translate(442.1 734.3) rotate(-90)" font-family="Liberation Serif, serif" class="b" font-size="13.6" text-anchor="middle" textLength="143.4" lengthAdjust="spacingAndGlyphs">TNF-α  mRNA (HPS=1)</text>
<text x="586.4" y="900.9" font-family="Liberation Serif, serif" class="b" font-size="13.6" text-anchor="middle" textLength="126.6" lengthAdjust="spacingAndGlyphs">Drug Concentrations</text>
<text x="400.3" y="731.8" font-family="Liberation Serif, serif" font-size="27.8">F</text>
</g>
<g id="panelG">
<path d="M272.1 1063.1 V1054.7 M265.2 1054.7 H279" stroke="#000" stroke-width="2.9" stroke-linecap="round" fill="none"/>
<rect x="258.2" y="1063.45" width="27.8" height="67.85" fill="#fff" stroke="#000" stroke-width="2.7" stroke-linejoin="round"/>
<rect x="299.74" y="970.05" width="27.8" height="161.25" fill="#000" stroke="#000" stroke-width="2.7" stroke-linejoin="round"/>
<text x="313.64" y="955.9" font-family="Liberation Sans, sans-serif" font-size="11.3" text-anchor="middle" dominant-baseline="central" stroke="#000" stroke-width="0.4">##</text>
<rect x="341.28" y="1025.05" width="27.8" height="106.25" fill="url(#hatch)" stroke="#000" stroke-width="2.7" stroke-linejoin="round"/>
<text x="355.18" y="1023.73" font-family="Liberation Sans, sans-serif" font-size="19" text-anchor="middle">**</text>
<path d="M396.72 1023.5 V1007.8 M389.82 1007.8 H403.62" stroke="#000" stroke-width="2.9" stroke-linecap="round" fill="none"/>
<rect x="382.82" y="1023.85" width="27.8" height="107.45" fill="url(#chk)" stroke="#000" stroke-width="2.7" stroke-linejoin="round"/>
<text x="396.72" y="1008.03" font-family="Liberation Sans, sans-serif" font-size="19" text-anchor="middle">**</text>
<path d="M438.26 1022.1 V1012.6 M431.36 1012.6 H445.16" stroke="#000" stroke-width="2.9" stroke-linecap="round" fill="none"/>
<rect x="424.36" y="1022.45" width="27.8" height="108.85" fill="url(#chk)" stroke="#000" stroke-width="2.7" stroke-linejoin="round"/>
<text x="438.26" y="1012.83" font-family="Liberation Sans, sans-serif" font-size="19" text-anchor="middle">**</text>
<path d="M479.8 1039.6 V1024.6 M472.9 1024.6 H486.7" stroke="#000" stroke-width="2.9" stroke-linecap="round" fill="none"/>
<rect x="465.9" y="1039.95" width="27.8" height="91.35" fill="url(#chk)" stroke="#000" stroke-width="2.7" stroke-linejoin="round"/>
<text x="479.8" y="1024.33" font-family="Liberation Sans, sans-serif" font-size="19" text-anchor="middle">**</text>
<path d="M521.34 1040.4 V1022.3 M514.44 1022.3 H528.24" stroke="#000" stroke-width="2.9" stroke-linecap="round" fill="none"/>
<rect x="507.44" y="1040.75" width="27.8" height="90.55" fill="url(#chk)" stroke="#000" stroke-width="2.7" stroke-linejoin="round"/>
<text x="521.34" y="1022.43" font-family="Liberation Sans, sans-serif" font-size="19" text-anchor="middle">**</text>
<path d="M248.5 937.35 H251.7 V1131.3 H541.7" stroke="#000" stroke-width="2.9" fill="none" stroke-linejoin="round" stroke-linecap="round"/>
<path d="M248.5 1131.3 H250.7" stroke="#000" stroke-width="2.5" stroke-linecap="round"/>
<text transform="translate(248.3 1136.83) scale(0.96 1)" font-family="Liberation Serif, serif" class="b" font-size="15.05" text-anchor="end">0.0</text>
<path d="M248.5 1098.95 H250.7" stroke="#000" stroke-width="2.5" stroke-linecap="round"/>
<text transform="translate(248.3 1104.48) scale(0.96 1)" font-family="Liberation Serif, serif" class="b" font-size="15.05" text-anchor="end">0.2</text>
<path d="M248.5 1066.6 H250.7" stroke="#000" stroke-width="2.5" stroke-linecap="round"/>
<text transform="translate(248.3 1072.13) scale(0.96 1)" font-family="Liberation Serif, serif" class="b" font-size="15.05" text-anchor="end">0.4</text>
<path d="M248.5 1034.25 H250.7" stroke="#000" stroke-width="2.5" stroke-linecap="round"/>
<text transform="translate(248.3 1039.78) scale(0.96 1)" font-family="Liberation Serif, serif" class="b" font-size="15.05" text-anchor="end">0.6</text>
<path d="M248.5 1001.9 H250.7" stroke="#000" stroke-width="2.5" stroke-linecap="round"/>
<text transform="translate(248.3 1007.43) scale(0.96 1)" font-family="Liberation Serif, serif" class="b" font-size="15.05" text-anchor="end">0.8</text>
<path d="M248.5 969.55 H250.7" stroke="#000" stroke-width="2.5" stroke-linecap="round"/>
<text transform="translate(248.3 975.08) scale(0.96 1)" font-family="Liberation Serif, serif" class="b" font-size="15.05" text-anchor="end">1.0</text>
<text transform="translate(248.3 942.73) scale(0.96 1)" font-family="Liberation Serif, serif" class="b" font-size="15.05" text-anchor="end">1.2</text>
<path d="M272.1 1131.3 V1134.4" stroke="#000" stroke-width="2.5" stroke-linecap="round"/>
<text transform="translate(277.1 1146.8) rotate(-45) scale(1.03 1)" font-family="Liberation Serif, serif" class="b" font-size="14.42" text-anchor="end">Control</text>
<path d="M313.64 1131.3 V1134.4" stroke="#000" stroke-width="2.5" stroke-linecap="round"/>
<text transform="translate(318.64 1146.8) rotate(-45) scale(1.03 1)" font-family="Liberation Serif, serif" class="b" font-size="14.42" text-anchor="end">HPS</text>
<path d="M355.18 1131.3 V1134.4" stroke="#000" stroke-width="2.5" stroke-linecap="round"/>
<text transform="translate(360.18 1146.8) rotate(-45) scale(1.03 1)" font-family="Liberation Serif, serif" class="b" font-size="14.42" text-anchor="end">NAC</text>
<path d="M396.72 1131.3 V1134.4" stroke="#000" stroke-width="2.5" stroke-linecap="round"/>
<text transform="translate(401.72 1146.8) rotate(-45) scale(1.03 1)" font-family="Liberation Serif, serif" class="b" font-size="14.42" text-anchor="end">12.5 μg/mL</text>
<path d="M438.26 1131.3 V1134.4" stroke="#000" stroke-width="2.5" stroke-linecap="round"/>
<text transform="translate(443.26 1146.8) rotate(-45) scale(1.03 1)" font-family="Liberation Serif, serif" class="b" font-size="14.42" text-anchor="end">25 μg/mL</text>
<path d="M479.8 1131.3 V1134.4" stroke="#000" stroke-width="2.5" stroke-linecap="round"/>
<text transform="translate(484.8 1146.8) rotate(-45) scale(1.03 1)" font-family="Liberation Serif, serif" class="b" font-size="14.42" text-anchor="end">50 μg/mL</text>
<path d="M521.34 1131.3 V1134.4" stroke="#000" stroke-width="2.5" stroke-linecap="round"/>
<text transform="translate(526.34 1146.8) rotate(-45) scale(1.03 1)" font-family="Liberation Serif, serif" class="b" font-size="14.42" text-anchor="end">100 μg/mL</text>
<text transform="translate(224.4 1029.5) rotate(-90)" font-family="Liberation Serif, serif" class="b" font-size="15.2" text-anchor="middle" textLength="164.3" lengthAdjust="spacingAndGlyphs">COX-2 mRNA (HPS=1)</text>
<text x="386.8" y="1216.7" font-family="Liberation Serif, serif" class="b" font-size="15.2" text-anchor="middle" textLength="142.4" lengthAdjust="spacingAndGlyphs">Drug Concentrations</text>
<text x="183.5" y="1036.5" font-family="Liberation Serif, serif" font-size="27.8">G</text>
</g>
</svg>
</body></html>
